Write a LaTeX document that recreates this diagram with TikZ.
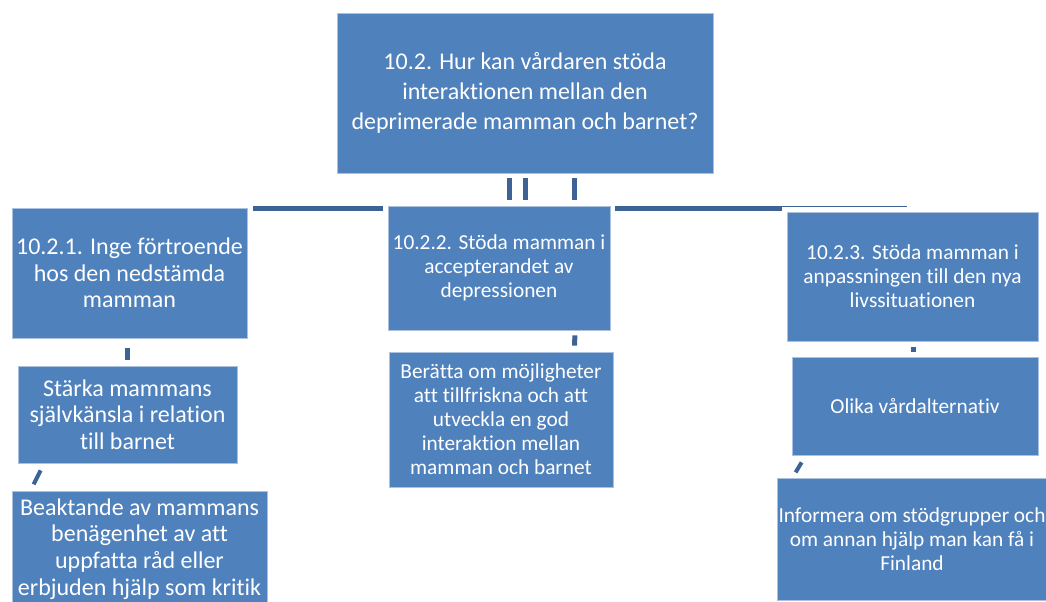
\documentclass[tikz,border=0pt]{standalone}
\usepackage{fontspec}
\setmainfont{Carlito}[Ligatures=NoCommon]
\usetikzlibrary{calc}
\definecolor{boxblue}{RGB}{79,129,189}
\definecolor{boxedge}{RGB}{170,194,224}
\definecolor{linkblue}{RGB}{61,99,148}
\tikzset{
  box/.style={fill=boxblue, draw=boxedge, line width=.6pt, text=white, align=center, inner sep=0pt},
  boxsize/.style 2 args={minimum width=#1*0.75pt, minimum height=#2*0.75pt},
  bigtext/.style={font=\fontsize{18}{22.5}\selectfont},
  midtext/.style={font=\fontsize{18}{20}\selectfont},
  smalltext/.style={font=\fontsize{16}{18}\selectfont},
  link/.style={linkblue, line width=3.75pt},
  thinlink/.style={linkblue, line width=0.75pt},
  slantlink/.style={linkblue, line width=3pt},
}
\begin{document}
\begin{tikzpicture}[x=0.75pt, y=-0.75pt]
    \useasboundingbox (0,0) rectangle (1046,601);

    \node[box, bigtext, boxsize={376}{160}] (top) at (525,93) {10.2. Hur kan vårdaren stöda\\ interaktionen mellan den\\ deprimerade mamman och barnet?};

    \node[box, midtext, boxsize={235}{130}] (b1) at (129.5,273) {10.2.1. Inge förtroende\\ hos den nedstämda\\ mamman};
    \node[box, smalltext, boxsize={222}{124}] (b2) at (499,268) {10.2.2. Stöda mamman i\\ accepterandet av\\ depressionen};
    \node[box, smalltext, boxsize={251}{129}] (b3) at (912.5,276.5) {10.2.3. Stöda mamman i\\ anpassningen till den nya\\ livssituationen};

    \node[box, midtext, boxsize={219}{97}] (b1a) at (127.5,414.5) {Stärka mammans\\ självkänsla i relation\\ till barnet};
    \node[box, midtext, boxsize={255}{116}] (b1b) at (139.5,549) {Beaktande av mammans\\ benägenhet av att\\ uppfatta råd eller\\ erbjuden hjälp som kritik};
    \node[box, smalltext, boxsize={224}{135}] (b2a) at (501,419.5) {Berätta om möjligheter\\ att tillfriskna och att\\ utveckla en god\\ interaktion mellan\\ mamman och barnet};
    \node[box, smalltext, boxsize={246}{98}] (b3a) at (915,406) {Olika vårdalternativ};
    \node[box, smalltext, boxsize={270}{122}] (b3b) at (912,539) {Informera om stödgrupper och\\ om annan hjälp man kan få i\\ Finland};

    % stubs under the top box
    \draw[link] ($(top.south)+(-15.5,5)$) -- ++(0,22);
    \draw[link] ($(top.south)+(0.5,5)$) -- ++(0,22);
    \draw[link] ($(top.south)+(49.5,5)$) -- ++(0,22);

    % broken bar over the second row
    \draw[link] ($(b1.north east)+(6,0.5)$) -- ($(b2.north west)+(-5,2.5)$);
    \draw[link] ($(b2.north east)+(5,2.5)$) coordinate (barmid) -- ($(b3.north west)+(-5,-3.5)$) coordinate (barend);
    \draw[thinlink] ($(barend)+(0,-1.5)$) -- ($(b3.north)+(-5.5,-5)$);

    % short pieces between the levels
    \draw[link] ($(b1.south)+(-2,10)$) -- ($(b1a.north)+(0,-6)$);
    \draw[slantlink] ($(b1a.south west)+(16,21)$) -- ($(b1a.south west)+(23,7)$);
    \draw[link] ($(b2.south east)+(-35.5,5)$) -- ($(b2a.north)+(73.5,-6)$);
    \draw[link] ($(b3.south)+(0.5,6)$) -- ($(b3a.north)+(-2,-5)$);
    \draw[slantlink] ($(b3a.south west)+(4,17)$) -- ($(b3a.south west)+(10,7)$);

\end{tikzpicture}
\end{document}
